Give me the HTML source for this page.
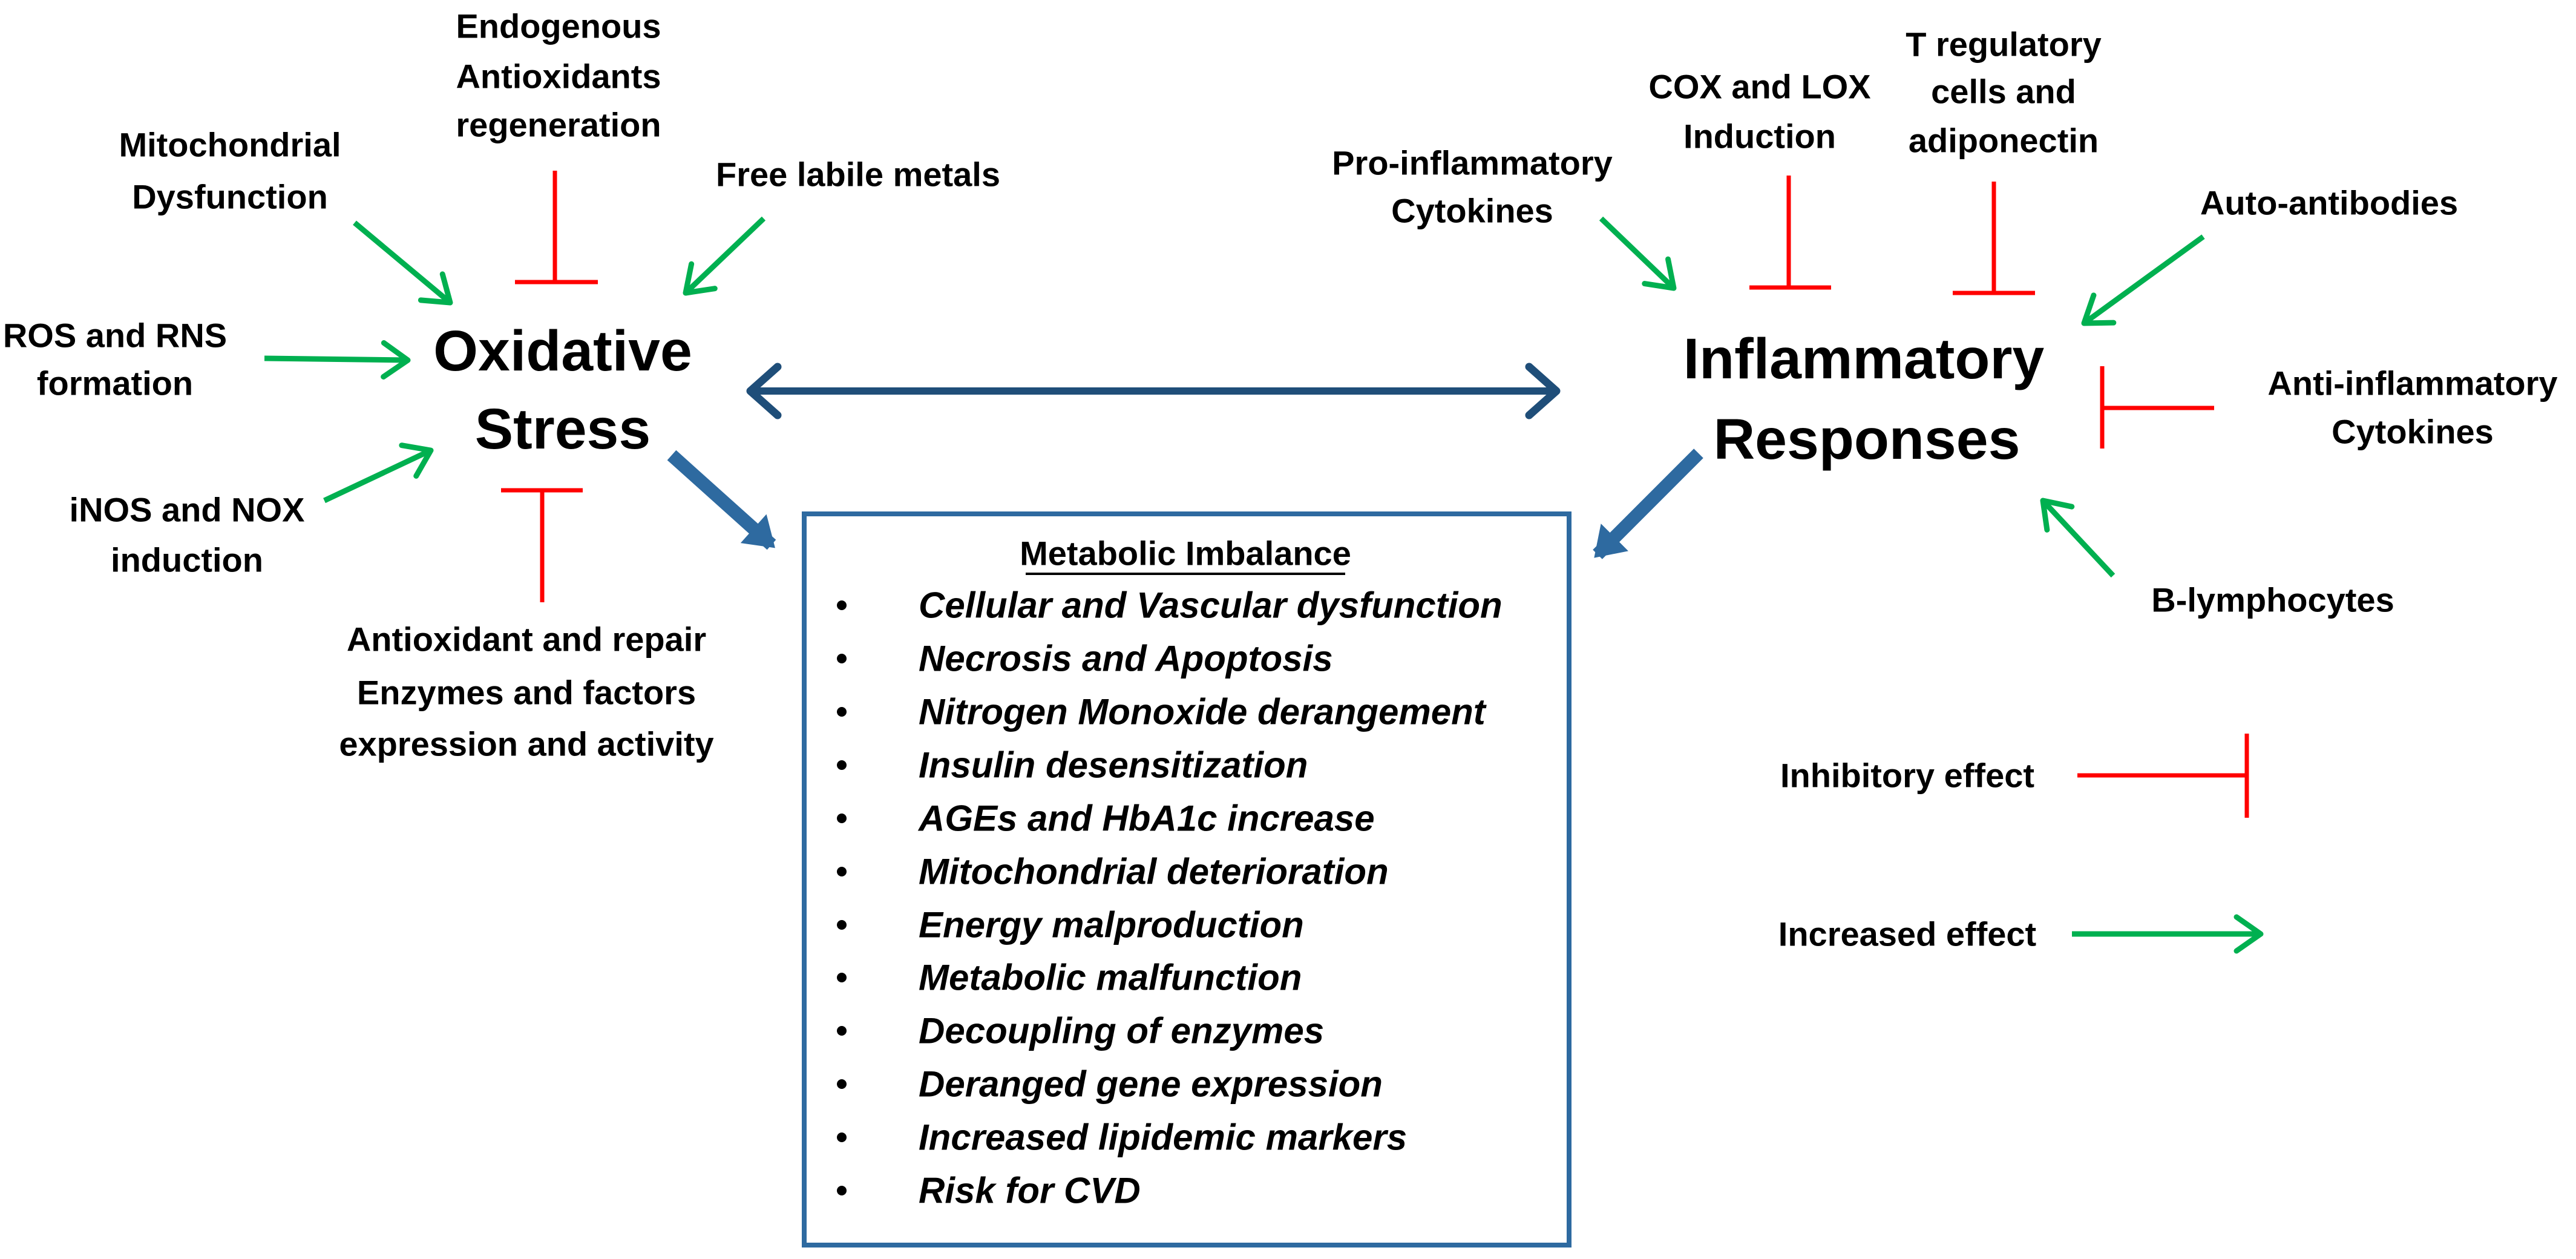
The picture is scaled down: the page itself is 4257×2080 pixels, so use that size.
<!DOCTYPE html>
<html><head><meta charset="utf-8"><style>
html,body{margin:0;padding:0;background:#fff;}
svg{display:block;}
text{font-family:"Liberation Sans",Arial,sans-serif;font-weight:bold;fill:#000;}
.l{font-size:56px;}
.big{font-size:95px;}
.it{font-size:60px;font-style:italic;}
</style></head><body>
<svg width="4257" height="2080" viewBox="0 0 4257 2080" xmlns="http://www.w3.org/2000/svg">
<defs>
<marker id="g" markerUnits="userSpaceOnUse" markerWidth="120" markerHeight="120" viewBox="-60 -60 120 120" refX="0" refY="0" orient="auto">
<path d="M-40,-28 L0,0 L-40,28" fill="none" stroke="#00b050" stroke-width="9" stroke-linecap="round" stroke-linejoin="round"/>
</marker>
<marker id="b" markerUnits="userSpaceOnUse" markerWidth="140" markerHeight="140" viewBox="-70 -70 140 140" refX="0" refY="0" orient="auto">
<path d="M-45,-40 L0,0 L-45,40" fill="none" stroke="#1f4e79" stroke-width="13" stroke-linecap="round" stroke-linejoin="round"/>
</marker>
<marker id="bs" markerUnits="userSpaceOnUse" markerWidth="140" markerHeight="140" viewBox="-70 -70 140 140" refX="0" refY="0" orient="auto-start-reverse">
<path d="M-45,-40 L0,0 L-45,40" fill="none" stroke="#1f4e79" stroke-width="13" stroke-linecap="round" stroke-linejoin="round"/>
</marker>
<marker id="t" markerUnits="userSpaceOnUse" markerWidth="140" markerHeight="140" viewBox="-70 -70 140 140" refX="0" refY="0" orient="auto">
<path d="M-40,-32 L8,0 L-40,32 Z" fill="#2e6aa0"/>
</marker>
</defs>

<g text-anchor="middle" dominant-baseline="central">
<text class="l" x="923" y="43">Endogenous</text>
<text class="l" x="923" y="126">Antioxidants</text>
<text class="l" x="923" y="206">regeneration</text>
<text class="l" x="380" y="239">Mitochondrial</text>
<text class="l" x="380" y="325">Dysfunction</text>
<text class="l" x="1418" y="288">Free labile metals</text>
<text class="l" x="190" y="554">ROS and RNS</text>
<text class="l" x="190" y="633">formation</text>
<text class="l" x="309" y="842">iNOS and NOX</text>
<text class="l" x="309" y="925">induction</text>
<text class="l" x="870" y="1056">Antioxidant and repair</text>
<text class="l" x="870" y="1144">Enzymes and factors</text>
<text class="l" x="870" y="1229">expression and activity</text>
<text class="big" x="930" y="580">Oxidative</text>
<text class="big" x="930" y="709">Stress</text>

<text class="l" x="3311" y="73">T regulatory</text>
<text class="l" x="3311" y="151">cells and</text>
<text class="l" x="3311" y="232">adiponectin</text>
<text class="l" x="2908" y="143">COX and LOX</text>
<text class="l" x="2908" y="225">Induction</text>
<text class="l" x="2433" y="269">Pro-inflammatory</text>
<text class="l" x="2433" y="348">Cytokines</text>
<text class="l" x="3849" y="335">Auto-antibodies</text>
<text class="big" x="3080" y="593">Inflammatory</text>
<text class="big" x="3085" y="726">Responses</text>
<text class="l" x="3987" y="633">Anti-inflammatory</text>
<text class="l" x="3987" y="713">Cytokines</text>
<text class="l" x="3756" y="991">B-lymphocytes</text>
<text class="l" x="3152" y="1281">Inhibitory effect</text>
<text class="l" x="3152" y="1543">Increased effect</text>
</g>

<g stroke="#00b050" stroke-width="9" fill="none" marker-end="url(#g)">
<line x1="586" y1="368" x2="744" y2="500"/>
<line x1="1262" y1="361" x2="1133" y2="484"/>
<line x1="437" y1="592" x2="674" y2="595"/>
<line x1="536" y1="827" x2="712" y2="744"/>
<line x1="2646" y1="361" x2="2766" y2="476"/>
<line x1="3641" y1="391" x2="3444" y2="534"/>
<line x1="3492" y1="951" x2="3376" y2="827"/>
<line x1="3424" y1="1543" x2="3736" y2="1543"/>
</g>

<g stroke="#ff0000" stroke-width="7" fill="none">
<line x1="917" y1="282" x2="917" y2="466"/><line x1="851" y1="466" x2="988" y2="466"/>
<line x1="896" y1="810" x2="896" y2="995"/><line x1="828" y1="810" x2="963" y2="810"/>
<line x1="2956" y1="290" x2="2956" y2="475"/><line x1="2891" y1="475" x2="3026" y2="475"/>
<line x1="3295" y1="300" x2="3295" y2="484"/><line x1="3227" y1="484" x2="3363" y2="484"/>
<line x1="3474" y1="605" x2="3474" y2="741"/><line x1="3474" y1="674" x2="3659" y2="674"/>
<line x1="3433" y1="1281" x2="3713" y2="1281"/><line x1="3713" y1="1212" x2="3713" y2="1351"/>
</g>

<line x1="1240" y1="646" x2="2572" y2="646" stroke="#1f4e79" stroke-width="12" marker-start="url(#bs)" marker-end="url(#b)"/>

<line x1="1110" y1="752" x2="1275" y2="900" stroke="#2e6aa0" stroke-width="22" marker-end="url(#t)"/>
<line x1="2807" y1="749" x2="2640" y2="916" stroke="#2e6aa0" stroke-width="22" marker-end="url(#t)"/>

<rect x="1329" y="849" width="1264" height="1208" fill="none" stroke="#2e6aa0" stroke-width="8"/>
<text class="l" x="1959" y="914" text-anchor="middle" dominant-baseline="central">Metabolic Imbalance</text>
<line x1="1695" y1="948" x2="2223" y2="948" stroke="#000" stroke-width="4"/>
<g dominant-baseline="central">
<text class="it" x="1518" y="1000">Cellular and Vascular dysfunction</text>
<text class="it" x="1518" y="1088">Necrosis and Apoptosis</text>
<text class="it" x="1518" y="1176">Nitrogen Monoxide derangement</text>
<text class="it" x="1518" y="1264">Insulin desensitization</text>
<text class="it" x="1518" y="1352">AGEs and HbA1c increase</text>
<text class="it" x="1518" y="1440">Mitochondrial deterioration</text>
<text class="it" x="1518" y="1528">Energy malproduction</text>
<text class="it" x="1518" y="1615">Metabolic malfunction</text>
<text class="it" x="1518" y="1703">Decoupling of enzymes</text>
<text class="it" x="1518" y="1791">Deranged gene expression</text>
<text class="it" x="1518" y="1879">Increased lipidemic markers</text>
<text class="it" x="1518" y="1967">Risk for CVD</text>
</g>
<g fill="#000">
<circle cx="1391" cy="1000" r="8"/><circle cx="1391" cy="1088" r="8"/><circle cx="1391" cy="1176" r="8"/>
<circle cx="1391" cy="1264" r="8"/><circle cx="1391" cy="1352" r="8"/><circle cx="1391" cy="1440" r="8"/>
<circle cx="1391" cy="1528" r="8"/><circle cx="1391" cy="1615" r="8"/><circle cx="1391" cy="1703" r="8"/>
<circle cx="1391" cy="1791" r="8"/><circle cx="1391" cy="1879" r="8"/><circle cx="1391" cy="1967" r="8"/>
</g>
</svg>
</body></html>
